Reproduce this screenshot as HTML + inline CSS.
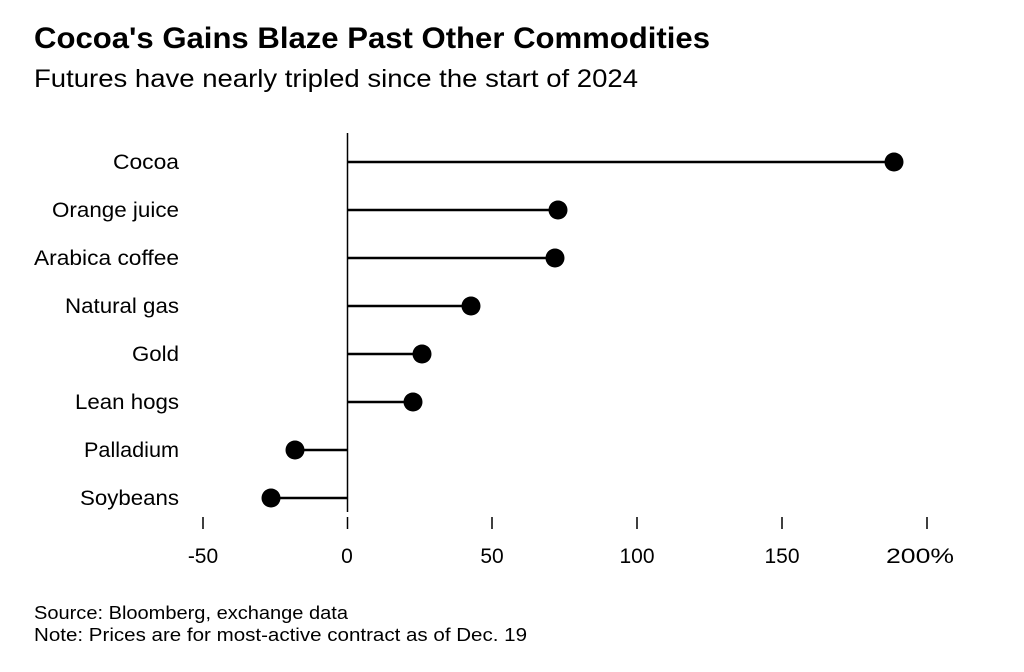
<!DOCTYPE html>
<html><head><meta charset="utf-8"><style>
body{margin:0;background:#fff;width:1024px;height:667px;overflow:hidden;font-family:"Liberation Sans",sans-serif;}
</style></head><body>
<svg width="1024" height="667" xmlns="http://www.w3.org/2000/svg" font-family="Liberation Sans, sans-serif">
<text x="34" y="48" font-size="30" font-weight="bold" fill="#000" textLength="676" lengthAdjust="spacingAndGlyphs">Cocoa's Gains Blaze Past Other Commodities</text>
<text x="34" y="87" font-size="25" fill="#000" textLength="604" lengthAdjust="spacingAndGlyphs">Futures have nearly tripled since the start of 2024</text>
<line x1="347.5" y1="133" x2="347.5" y2="512" stroke="#000" stroke-width="1.5"/>
<g font-size="21" fill="#000" text-anchor="end">
<text x="179" y="169" textLength="66" lengthAdjust="spacingAndGlyphs">Cocoa</text>
<text x="179" y="217" textLength="127" lengthAdjust="spacingAndGlyphs">Orange juice</text>
<text x="179" y="265" textLength="145" lengthAdjust="spacingAndGlyphs">Arabica coffee</text>
<text x="179" y="313" textLength="114" lengthAdjust="spacingAndGlyphs">Natural gas</text>
<text x="179" y="361" textLength="47" lengthAdjust="spacingAndGlyphs">Gold</text>
<text x="179" y="409" textLength="104" lengthAdjust="spacingAndGlyphs">Lean hogs</text>
<text x="179" y="457" textLength="95" lengthAdjust="spacingAndGlyphs">Palladium</text>
<text x="179" y="505" textLength="99" lengthAdjust="spacingAndGlyphs">Soybeans</text>
</g>
<g stroke="#000" stroke-width="2.5">
<line x1="347" y1="162" x2="894" y2="162"/>
<line x1="347" y1="210" x2="558" y2="210"/>
<line x1="347" y1="258" x2="555" y2="258"/>
<line x1="347" y1="306" x2="471" y2="306"/>
<line x1="347" y1="354" x2="422" y2="354"/>
<line x1="347" y1="402" x2="413" y2="402"/>
<line x1="347" y1="450" x2="295" y2="450"/>
<line x1="347" y1="498" x2="271" y2="498"/>
</g>
<g fill="#000">
<circle cx="894" cy="162" r="9.5"/>
<circle cx="558" cy="210" r="9.5"/>
<circle cx="555" cy="258" r="9.5"/>
<circle cx="471" cy="306" r="9.5"/>
<circle cx="422" cy="354" r="9.5"/>
<circle cx="413" cy="402" r="9.5"/>
<circle cx="295" cy="450" r="9.5"/>
<circle cx="271" cy="498" r="9.5"/>
</g>
<g stroke="#000" stroke-width="1.5">
<line x1="203" y1="517" x2="203" y2="529"/>
<line x1="347.5" y1="517" x2="347.5" y2="529"/>
<line x1="492" y1="517" x2="492" y2="529"/>
<line x1="637" y1="517" x2="637" y2="529"/>
<line x1="782" y1="517" x2="782" y2="529"/>
<line x1="927" y1="517" x2="927" y2="529"/>
</g>
<g font-size="21" fill="#000" text-anchor="middle">
<text x="203" y="563">-50</text>
<text x="347" y="563">0</text>
<text x="492" y="563">50</text>
<text x="637" y="563">100</text>
<text x="782" y="563">150</text>
<text x="920" y="563" textLength="68" lengthAdjust="spacingAndGlyphs">200%</text>
</g>
<text x="34" y="619" font-size="18" fill="#000" textLength="314" lengthAdjust="spacingAndGlyphs">Source: Bloomberg, exchange data</text>
<text x="34" y="641" font-size="18" fill="#000" textLength="493" lengthAdjust="spacingAndGlyphs">Note: Prices are for most-active contract as of Dec. 19</text>
</svg>
</body></html>
